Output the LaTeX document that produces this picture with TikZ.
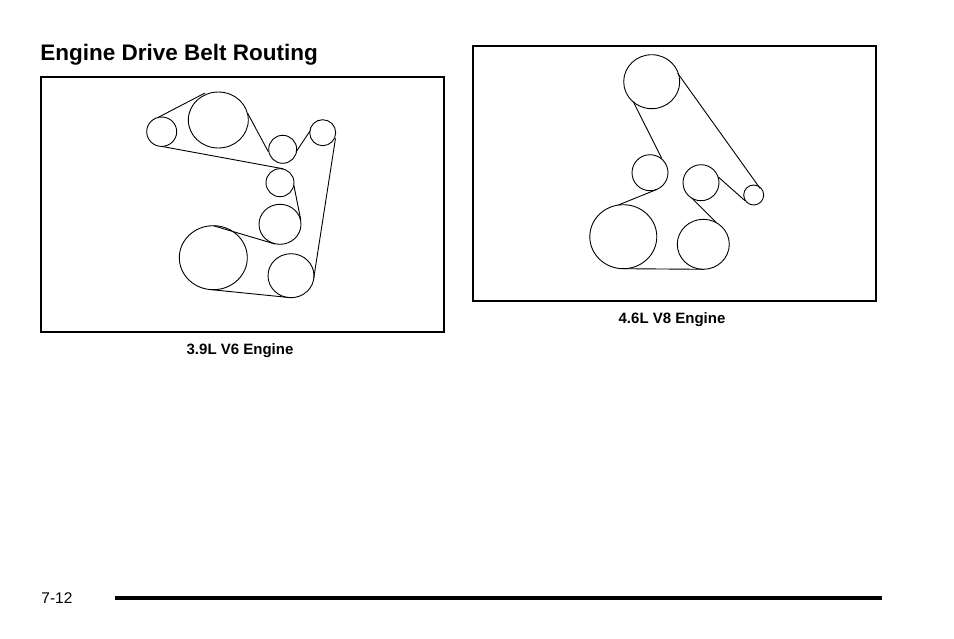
\documentclass[tikz,border=0pt]{standalone}
\usepackage{fontspec}
\setmainfont{Liberation Sans}
\begin{document}
\begin{tikzpicture}[x=1pt,y=-1pt,line width=0.8pt,
  pul/.style={draw,line width=0.9pt},
  belt/.style={line width=0.9pt}]
\useasboundingbox (0,0) rectangle (954,638);
\node[anchor=west,inner sep=0pt,font=\bfseries\fontsize{22.5}{24}\selectfont] (title) at (40,55) {Engine Drive Belt Routing};
\draw[line width=1.1pt] (41,77) rectangle (444,332);
\draw[line width=1.1pt] (473,46) rectangle (876,301);
\node[font=\bfseries\fontsize{15}{17}\selectfont] (c1) at (240,351) {3.9L V6 Engine};
\node[font=\bfseries\fontsize{15}{17}\selectfont] (c2) at (672,320) {4.6L V8 Engine};
\node[font=\fontsize{15.5}{17}\selectfont,anchor=west,inner sep=0pt] (pg) at (41,598) {7-12};
\draw[line width=4pt] (115,598) -- (882,598);
% V6
\draw[pul] (161.7,131.7) ellipse (15 and 14.7);
\draw[pul] (218.3,120) ellipse (30 and 28);
\draw[pul] (282.7,149.3) circle (14);
\draw[pul] (322.7,132.7) circle (13);
\draw[pul] (280,182.7) circle (14);
\draw[pul] (280,224.3) ellipse (21 and 20);
\draw[pul] (213.3,257.7) ellipse (34 and 32);
\draw[pul] (291,275.7) ellipse (23 and 22);
\draw[belt] (158.3,117.3)--(205,93);
\draw[belt] (247.5,113)--(268.3,151.7);
\draw[belt] (296,152)--(310,131);
\draw[belt] (335.5,138.3)--(313.8,277.7);
\draw[belt] (290,297.6)--(211.7,289.7);
\draw[belt] (213.3,225.7)--(275,244);
\draw[belt] (300.8,220)--(293.8,185);
\draw[belt] (283.3,168.8)--(161.7,146.4);
% V8
\draw[pul] (651.7,81.7) ellipse (28 and 27);
\draw[pul] (650,172.7) circle (18);
\draw[pul] (701,182.7) circle (18);
\draw[pul] (753.7,195) circle (10);
\draw[pul] (623.3,236.7) ellipse (33.5 and 32);
\draw[pul] (703.3,244.3) ellipse (26 and 25);
\draw[belt] (633.3,101.7)--(661.7,158.3);
\draw[belt] (677.7,73.3)--(760,188.3);
\draw[belt] (745,200.7)--(718.3,177);
\draw[belt] (691.7,198)--(716,222.3);
\draw[belt] (703.3,269.3)--(623.3,268.7);
\draw[belt] (618.3,205)--(656.7,189.5);
\end{tikzpicture}
\end{document}
